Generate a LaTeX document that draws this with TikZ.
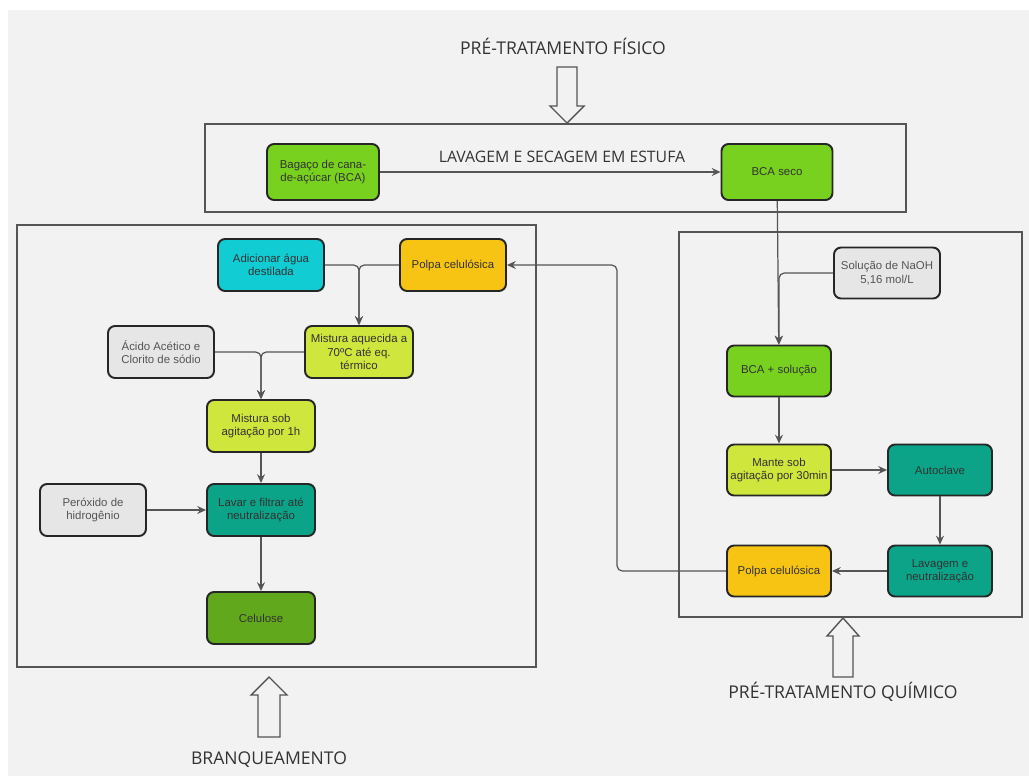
\documentclass[tikz,border=0pt]{standalone}
\usepackage{fontspec}
\setmainfont{Liberation Sans}
\newfontfamily\titlefont{Open Sans}
\usepackage{tikz}
\usetikzlibrary{arrows.meta}

\definecolor{fundo}{HTML}{F2F2F2}
\definecolor{verde}{HTML}{78D11E}
\definecolor{verdeesc}{HTML}{62A81C}
\definecolor{ciano}{HTML}{12CCD4}
\definecolor{amarelo}{HTML}{F8C414}
\definecolor{lima}{HTML}{CFE63C}
\definecolor{cinza}{HTML}{E6E6E6}
\definecolor{teal}{HTML}{0BA488}
\definecolor{linha}{HTML}{555555}
\definecolor{texto}{HTML}{333333}

\begin{document}
\begin{tikzpicture}[x=0.02cm, y=-0.02cm]
\tikzstyle{etapa} = [rectangle, rounded corners=4pt, draw=black!85, line width=1.1pt, minimum width=2.12cm, minimum height=1.04cm, align=center, text=texto, font=\fontsize{6.5}{7.5}\selectfont, inner sep=1pt]
\tikzstyle{reagente} = [etapa, fill=cinza, text=linha]
\tikzstyle{bloco} = [draw=linha, line width=0.8pt]
\tikzstyle{titulo} = [text=texto, font=\titlefont\fontsize{10}{12}\selectfont]
\tikzstyle{fluxo} = [->, >={Stealth[length=5pt, width=4.5pt]}, draw=linha, line width=0.7pt, rounded corners=3pt]
\tikzstyle{seta} = [draw=linha, line width=0.8pt, fill=fundo]

% Fundo
\useasboundingbox (0,0) rectangle (1029,778);
\fill[white] (0,0) rectangle (1029,778);
\fill[fundo] (8,10) rectangle (1029,776);

% Blocos das etapas
\draw[bloco] (205,124) rectangle (906,212);
\draw[bloco] (17,225) rectangle (536,667);
\draw[bloco] (679,232) rectangle (1022,617);

% Setas vazadas
\draw[seta] (557,67) -- (577,67) -- (577,106) -- (584,106) -- (567,123) -- (550,106) -- (557,106) -- cycle;
\draw[seta] (258,737) -- (280,737) -- (280,695) -- (287,695) -- (269,677) -- (251,695) -- (258,695) -- cycle;
\draw[seta] (833,677) -- (853,677) -- (853,636) -- (859,636) -- (843,618) -- (827,636) -- (833,636) -- cycle;

% Titulos
\node[titulo] (fisico) at (563,46) {PRÉ-TRATAMENTO FÍSICO};
\node[titulo, font=\titlefont\fontsize{9}{11}\selectfont] (estufa) at (562,157) {LAVAGEM E SECAGEM EM ESTUFA};
\node[titulo] (quimico) at (843,692) {PRÉ-TRATAMENTO QUÍMICO};
\node[titulo] (branq) at (269,760) {BRANQUEAMENTO};

% Pre-tratamento fisico
\node[etapa, fill=verde, minimum width=2.24cm, minimum height=1.12cm] (bagaco) at (323,172) {Bagaço de cana-\\de-açúcar (BCA)};
\node[etapa, fill=verde, minimum width=2.22cm, minimum height=1.12cm] (seco) at (777,172) {BCA seco};

% Pre-tratamento quimico
\node[reagente, minimum height=1.02cm] (naoh) at (887,273) {Solução de NaOH\\5,16 mol/L};
\node[etapa, fill=verde, minimum width=2.08cm, minimum height=1.02cm] (solucao) at (779,371) {BCA + solução};
\node[etapa, fill=lima, minimum width=2.08cm, minimum height=1.02cm] (mante) at (779,470) {Mante sob\\agitação por 30min};
\node[etapa, fill=teal, minimum width=2.08cm, minimum height=1.02cm] (autoclave) at (940,470) {Autoclave};
\node[etapa, fill=teal, minimum width=2.08cm, minimum height=1.02cm] (lavagem) at (940,571) {Lavagem e\\neutralização};
\node[etapa, fill=amarelo, minimum width=2.08cm, minimum height=1.02cm] (polpaq) at (779,571) {Polpa celulósica};

% Branqueamento
\node[etapa, fill=ciano] (agua) at (271,265) {Adicionar água\\destilada};
\node[etapa, fill=amarelo] (polpab) at (453,265) {Polpa celulósica};
\node[etapa, fill=lima, minimum width=2.16cm] (aquecida) at (359,352) {Mistura aquecida a\\70ºC até eq.\\térmico};
\node[reagente] (acido) at (161,352) {Ácido Acético e\\Clorito de sódio};
\node[etapa, fill=lima, minimum width=2.16cm] (agitacao) at (261,426) {Mistura sob\\agitação por 1h};
\node[reagente] (peroxido) at (93,510) {Peróxido de\\hidrogênio};
\node[etapa, fill=teal, minimum width=2.16cm] (lavar) at (261,510) {Lavar e filtrar até\\neutralização};
\node[etapa, fill=verdeesc, minimum width=2.16cm] (celulose) at (261,618) {Celulose};

% Conexoes
\draw[fluxo] (bagaco) -- (seco);
\draw[fluxo] (seco) -- (solucao);
\draw[fluxo] (naoh.west) -| (solucao.north);
\draw[fluxo] (solucao) -- (mante);
\draw[fluxo] (mante) -- (autoclave);
\draw[fluxo] (autoclave) -- (lavagem);
\draw[fluxo] (lavagem) -- (polpaq);
\draw[fluxo] (polpaq.west) -- (617,571) -- (617,265) -- (polpab.east);
\draw[fluxo] (agua.east) -| (aquecida.north);
\draw[fluxo] (polpab.west) -| (aquecida.north);
\draw[fluxo] (acido.east) -| (agitacao.north);
\draw[fluxo] (aquecida.west) -| (agitacao.north);
\draw[fluxo] (agitacao) -- (lavar);
\draw[fluxo] (peroxido) -- (lavar);
\draw[fluxo] (lavar) -- (celulose);

\end{tikzpicture}
\end{document}
